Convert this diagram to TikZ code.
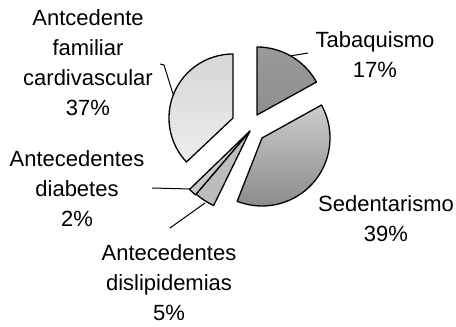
\documentclass[tikz,border=0pt]{standalone}
\usepackage{fontspec}
\setmainfont{Liberation Sans}
\usepackage{tikz}
\usetikzlibrary{calc}

\begin{document}
\begin{tikzpicture}[x=1pt,y=1pt,
  slice/.style={line width=1.3pt, line join=round},
  lbl/.style={align=center, inner sep=0pt, font=\fontsize{22}{30}\selectfont},
  leader/.style={line width=1pt}]
\useasboundingbox (0,0) rectangle (456,327);

% pie slices (exploded)
\draw[slice, top color=black!40, bottom color=black!44] (257,212) -- ++(90:68) arc[start angle=90, end angle=29, radius=68] -- cycle;
\draw[slice, top color=black!20, middle color=black!46, bottom color=black!46] (262,189) -- ++(29:68) arc[start angle=29, end angle=-111.4, radius=68] -- cycle;
\draw[slice, top color=black!24, bottom color=black!27] (250,196) -- ++(-116:83) arc[start angle=-116, end angle=-130.5, radius=83] -- cycle;
\draw[slice, top color=black!18, bottom color=black!22] (250,196) -- ++(-130.5:84) arc[start angle=-130.5, end angle=-136, radius=84] -- cycle;
\draw[slice, top color=black!16, bottom color=black!7] (233,209) -- ++(-136.6:64) arc[start angle=223.4, end angle=90, radius=64] -- cycle;

% labels
\node[lbl] (fam) at (88,264) {Antcedente\\familiar\\cardivascular\\37\%};
\node[lbl] (tab) at (375,272) {Tabaquismo\\17\%};
\node[lbl] (sed) at (386,108) {Sedentarismo\\39\%};
\node[lbl] (dia) at (77,138) {Antecedentes\\diabetes\\2\%};
\node[lbl] (dis) at (169,44) {Antecedentes\\dislipidemias\\5\%};

% leader lines
\coordinate (famA) at (160,263);
\coordinate (famB) at (164,262);
\coordinate (famC) at (173,233);
\coordinate (tabA) at (308,274);
\coordinate (tabB) at (290,271);
\coordinate (diaA) at (152,139);
\coordinate (diaB) at (190,138);
\coordinate (disA) at (170,99);
\coordinate (disB) at (205,124);
\draw[leader] (famA) -- (famB) -- (famC);
\draw[leader] (tabA) -- (tabB);
\draw[leader] (diaA) -- (diaB);
\draw[leader] (disA) -- (disB);
\end{tikzpicture}
\end{document}
